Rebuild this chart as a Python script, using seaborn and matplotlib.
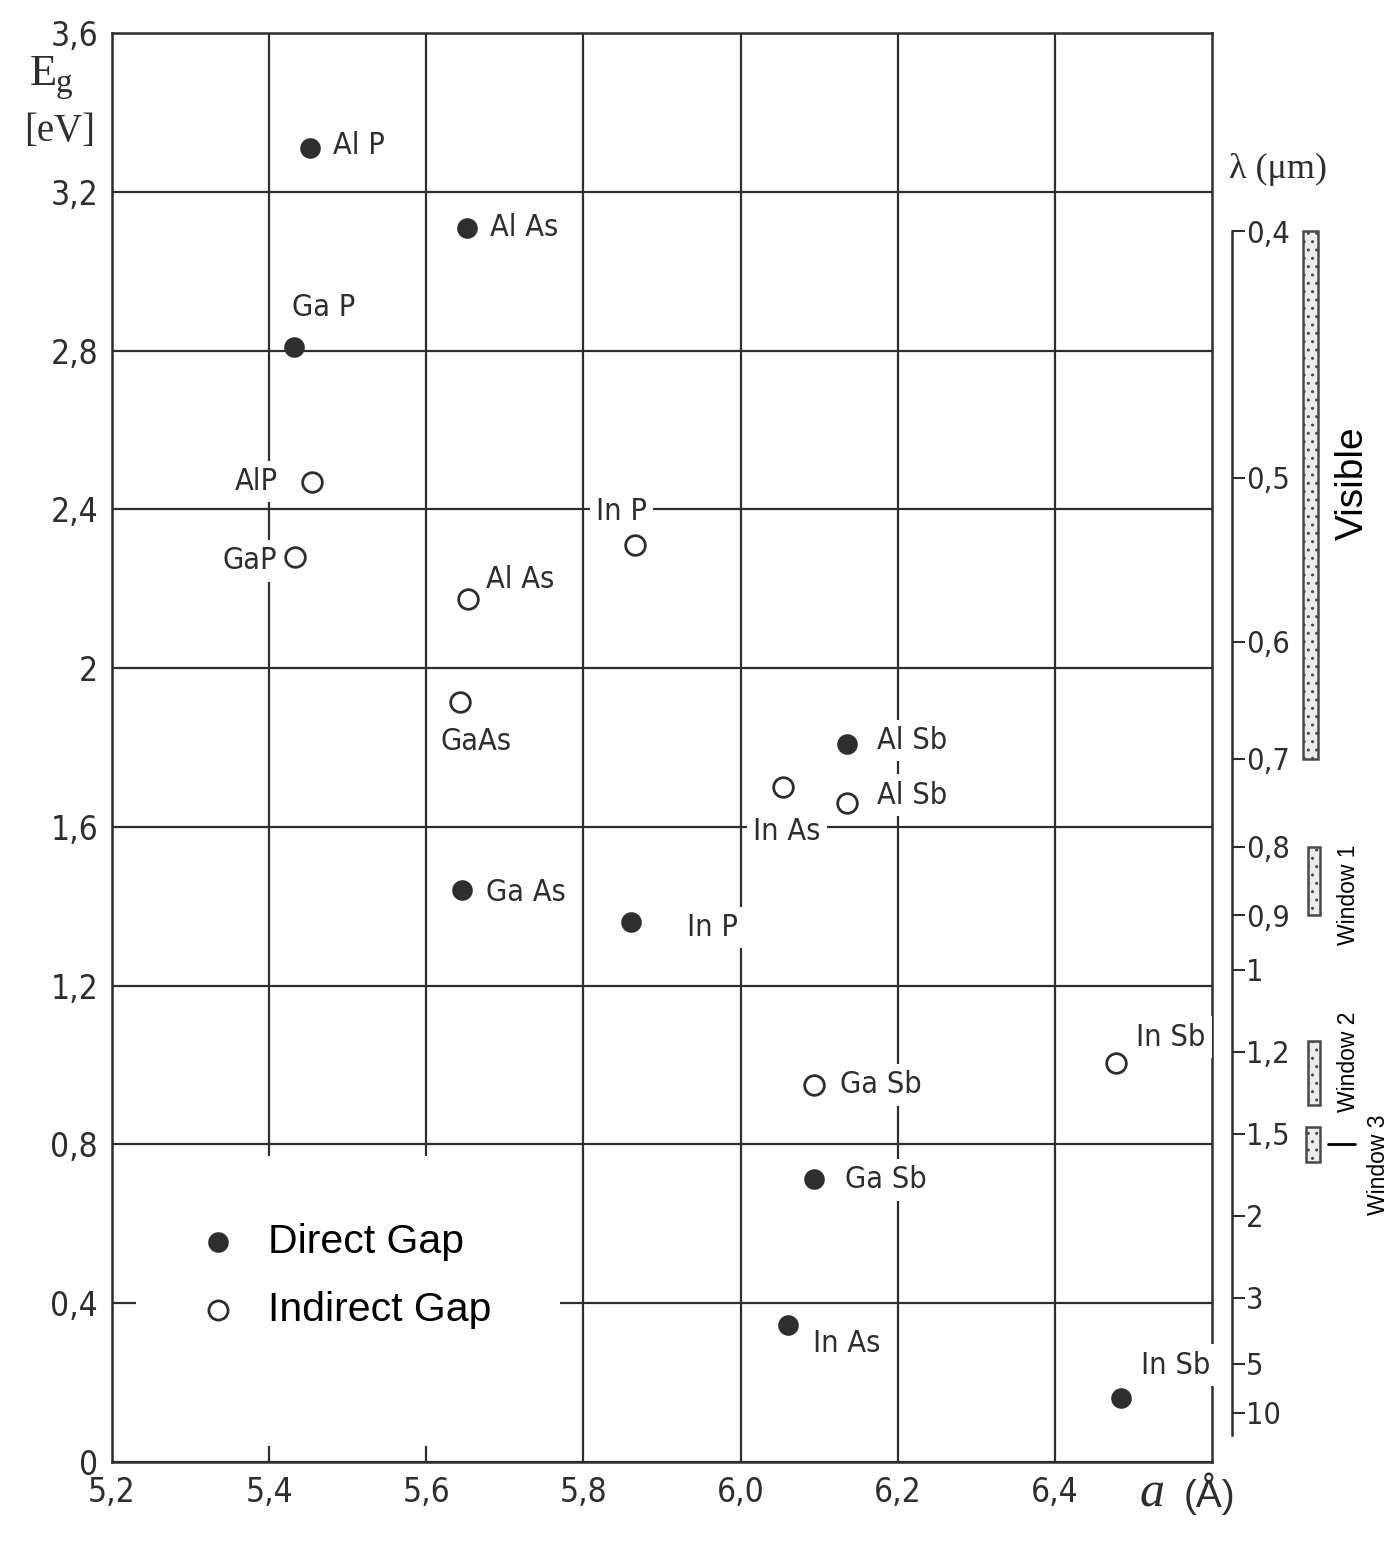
"""Band gap vs lattice constant for III-V compounds, with wavelength scale."""

import matplotlib
matplotlib.use("Agg")
import matplotlib.pyplot as plt
from matplotlib.patches import Rectangle
import numpy as np
import pandas as pd
import seaborn as sns

# --- data -------------------------------------------------------------
direct_names = ["Al P", "Al As", "Ga P", "Ga As", "In P", "Al Sb", "Ga Sb", "In As", "In Sb"]
direct_a = [5.452, 5.652, 5.431, 5.646, 5.861, 6.135, 6.094, 6.060, 6.484]
direct_eg = [3.31, 3.11, 2.81, 1.44, 1.36, 1.81, 0.713, 0.345, 0.161]

indirect_names = ["AlP", "GaP", "In P", "Al As", "GaAs", "In As", "Al Sb", "Ga Sb", "In Sb"]
indirect_a = [5.455, 5.433, 5.866, 5.653, 5.643, 6.054, 6.135, 6.094, 6.478]
indirect_eg = [2.47, 2.28, 2.31, 2.175, 1.915, 1.70, 1.66, 0.95, 1.005]

x_ticks = [5.2, 5.4, 5.6, 5.8, 6.0, 6.2, 6.4]
x_tick_labels = ["5,2", "5,4", "5,6", "5,8", "6,0", "6,2", "6,4"]
y_ticks = [0, 0.4, 0.8, 1.2, 1.6, 2.0, 2.4, 2.8, 3.2, 3.6]
y_tick_labels = ["0", "0,4", "0,8", "1,2", "1,6", "2", "2,4", "2,8", "3,2", "3,6"]

lam_ticks = [0.4, 0.5, 0.6, 0.7, 0.8, 0.9, 1, 1.2, 1.5, 2, 3, 5, 10]
lam_tick_labels = ["0,4", "0,5", "0,6", "0,7", "0,8", "0,9", "1", "1,2", "1,5", "2", "3", "5", "10"]

band_names = ["Visible", "Window 1", "Window 2", "Window 3"]
band_lo = [0.4, 0.8, 1.17, 1.47]
band_hi = [0.7, 0.9, 1.38, 1.64]
window3_mark = 1.55

HC = 1.24  # eV*um

# label placement (pixel offsets from the point), purely layout
direct_offsets = [(23, 3, "left"), (23, 0, "left"), (-1, 39, "left"), (24, -2, "left"),
                  (56, -5, "left"), (30, 3, "left"), (31, -1, "left"), (25, -18, "left"),
                  (20, 33, "left")]
indirect_offsets = [(-34, 0, "right"), (-18, -4, "right"), (-39, 34, "left"), (18, 19, "left"),
                    (-20, -40, "left"), (-30, -44, "left"), (30, 8, "left"), (26, 0, "left"),
                    (20, 26, "left")]

INK = "#2e2e2e"
NARROW = ["DejaVu Sans"]
ARIAL = ["Liberation Sans", "DejaVu Sans"]
SERIF = ["Liberation Serif", "DejaVu Serif"]

sns.set_theme(style="white")
plt.rcParams["font.family"] = NARROW
plt.rcParams["font.stretch"] = "condensed"
plt.rcParams["hatch.linewidth"] = 1.0

direct_df = pd.DataFrame({"a": direct_a, "eg": direct_eg, "name": direct_names})
indirect_df = pd.DataFrame({"a": indirect_a, "eg": indirect_eg, "name": indirect_names})

fig = plt.figure(figsize=(13.97, 15.43), dpi=100)
ax = fig.add_axes([112 / 1397, 81 / 1543, 1100 / 1397, 1429 / 1543])

sns.scatterplot(data=direct_df, x="a", y="eg", ax=ax, s=220, color=INK,
                edgecolor=INK, linewidth=0, label="Direct Gap", zorder=4)
sns.scatterplot(data=indirect_df, x="a", y="eg", ax=ax, s=200, facecolor="white",
                edgecolor=INK, linewidth=2.0, label="Indirect Gap", zorder=4)

ax.set_xlim(5.2, 6.6)
ax.set_ylim(0, 3.6)
ax.set_xticks(x_ticks)
ax.set_xticklabels(x_tick_labels)
ax.set_yticks(y_ticks)
ax.set_yticklabels(y_tick_labels)
ax.set_xlabel("")
ax.set_ylabel("")
ax.set_axisbelow(True)
ax.grid(True, color=INK, lw=1.6)
ax.tick_params(direction="in", length=9, width=1.5, color=INK, labelsize=24,
               labelcolor=INK, pad=10)
for sp in ax.spines.values():
    sp.set_color(INK)
    sp.set_linewidth(1.8)

# blank area behind the legend
ax.add_patch(Rectangle((5.23, 0.04), 0.54, 0.73, facecolor="white",
                       edgecolor="none", zorder=1))

for (nm, a, eg), (dx, dy, ha) in zip(zip(direct_names, direct_a, direct_eg), direct_offsets):
    ax.annotate(nm, xy=(a, eg), xytext=(dx, dy), textcoords="offset pixels",
                ha=ha, va="center", fontsize=22, color=INK, zorder=3,
                bbox=dict(boxstyle="square,pad=0.2", fc="white", ec="none"))
for (nm, a, eg), (dx, dy, ha) in zip(zip(indirect_names, indirect_a, indirect_eg), indirect_offsets):
    ax.annotate(nm, xy=(a, eg), xytext=(dx, dy), textcoords="offset pixels",
                ha=ha, va="center", fontsize=22, color=INK, zorder=3,
                bbox=dict(boxstyle="square,pad=0.2", fc="white", ec="none"))

leg = ax.legend(loc="upper left", bbox_to_anchor=(0.044, 0.193), frameon=False,
                prop={"family": ARIAL, "size": 29.5, "stretch": "normal"},
                handlelength=1.0, handletextpad=0.72, labelspacing=0.72)
sizes = [220, 190]
for h, sz in zip(leg.legend_handles, sizes):
    h.set_sizes([sz])
for t in leg.get_texts():
    t.set_color("black")

# axis titles
fig.text(43 / 1397, 1 - 74 / 1543, "E", fontsize=32, family=SERIF, color=INK,
         ha="center", va="center")
fig.text(64 / 1397, 1 - 84 / 1543, "g", fontsize=24, family=SERIF, color=INK,
         ha="center", va="center")
fig.text(60 / 1397, 1 - 131 / 1543, "[eV]", fontsize=28, family=SERIF, color=INK,
         ha="center", va="center")
fig.text(1152 / 1397, 1 - 1494 / 1543, "a", fontsize=36, family=SERIF, style="italic",
         color=INK, ha="center", va="center")
fig.text(1209 / 1397, 1 - 1494 / 1543, "(Å)", fontsize=28, family=ARIAL, color=INK,
         ha="center", va="center")

# wavelength scale on the right
axr = fig.add_axes([1232 / 1397, 81 / 1543, 165 / 1397, 1429 / 1543])
axr.set_xlim(0, 1)
axr.set_ylim(0, 3.6)
axr.patch.set_alpha(0)
for key in ["left", "top", "bottom"]:
    axr.spines[key].set_visible(False)
axr.spines["right"].set_position(("axes", 0))
axr.spines["right"].set_color(INK)
axr.spines["right"].set_linewidth(1.8)
axr.spines["right"].set_bounds(0.068, HC / lam_ticks[0])
axr.yaxis.tick_right()
axr.set_yticks([HC / l for l in lam_ticks])
axr.set_yticklabels(lam_tick_labels)
axr.set_xticks([])
axr.tick_params(axis="y", direction="out", length=9, width=1.5, color=INK,
                labelsize=22, labelcolor=INK, pad=1)

band_x = [(0.430, 0.091), (0.461, 0.072), (0.461, 0.072), (0.448, 0.085)]
for (x0, w), lo, hi in zip(band_x, band_lo, band_hi):
    axr.add_patch(Rectangle((x0, HC / hi), w, HC / lo - HC / hi, facecolor="#ececec",
                            edgecolor="#4a4a4a", hatch="..", linewidth=1.8, clip_on=False))
axr.plot([0.58, 0.745], [HC / window3_mark] * 2, color="black", lw=2, clip_on=False)

text_pos = [(0.73, 2.466, 28), (0.705, 1.428, 16.5), (0.705, 1.008, 16.5), (0.885, 0.748, 16.5)]
for nm, (tx, ty, fs) in zip(band_names, text_pos):
    axr.text(tx, ty, nm, rotation=90, ha="center", va="center", fontsize=fs,
             family=ARIAL, fontstretch="normal", color="black", clip_on=False)

axr.text(0.28, 3.255, "λ (μm)", ha="center", va="center", fontsize=26,
         family=SERIF, color=INK, clip_on=False)

fig.savefig("out.png", dpi=100, facecolor="white")
